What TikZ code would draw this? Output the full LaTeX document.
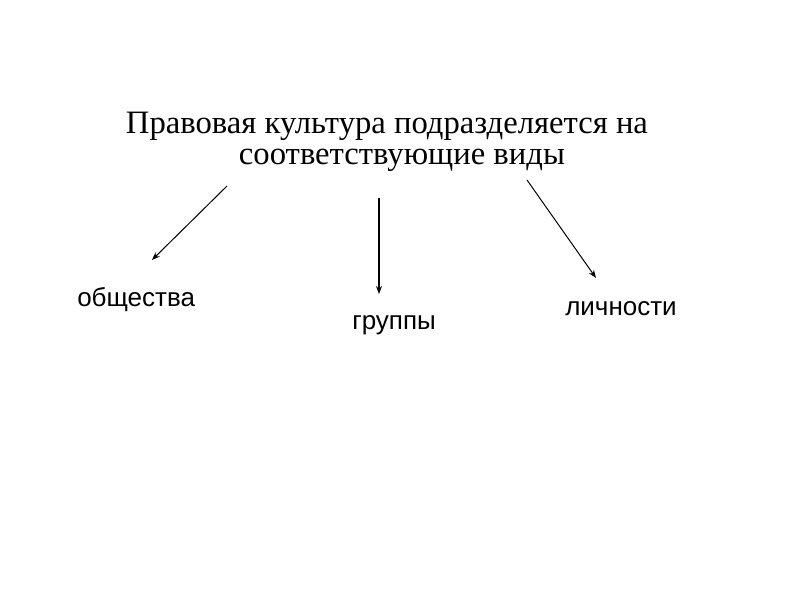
\documentclass[tikz,border=0pt]{standalone}
\usepackage{fontspec}
\setmainfont{Liberation Serif}
\newfontfamily\labelfont{Liberation Sans}
\usetikzlibrary{arrows.meta}
\begin{document}
\begin{tikzpicture}[x=0.75pt,y=-0.75pt,
  titletext/.style={inner sep=0pt,anchor=base,text height=17pt,text depth=4pt,font=\fontsize{24.5}{28}\selectfont},
  labeltext/.style={inner sep=0pt,anchor=base west,font=\labelfont\fontsize{19.5}{23}\selectfont},
  arrowline/.style={-{Stealth[length=6pt,width=4.5pt]},line width=0.75pt}]
\useasboundingbox[fill=white] (0,0) rectangle (794,595);
\node[titletext] (t1) at (387,134) {Правовая культура подразделяется на};
\node[titletext] (t2) at (402,165) {соответствующие виды};
\coordinate (s1) at (227,186);
\coordinate (s2) at (379,198);
\coordinate (s3) at (527,180);
\node[labeltext] (l1) at (77,307) {общества};
\node[labeltext] (l2) at (352,330) {группы};
\node[labeltext] (l3) at (565,316) {личности};
\coordinate (e1) at (152,260);
\coordinate (e2) at (379,294);
\coordinate (e3) at (596,278);
\draw[arrowline] (s1) -- (e1);
\draw[arrowline,line width=1.2pt] (s2) -- (e2);
\draw[arrowline] (s3) -- (e3);
\end{tikzpicture}
\end{document}
